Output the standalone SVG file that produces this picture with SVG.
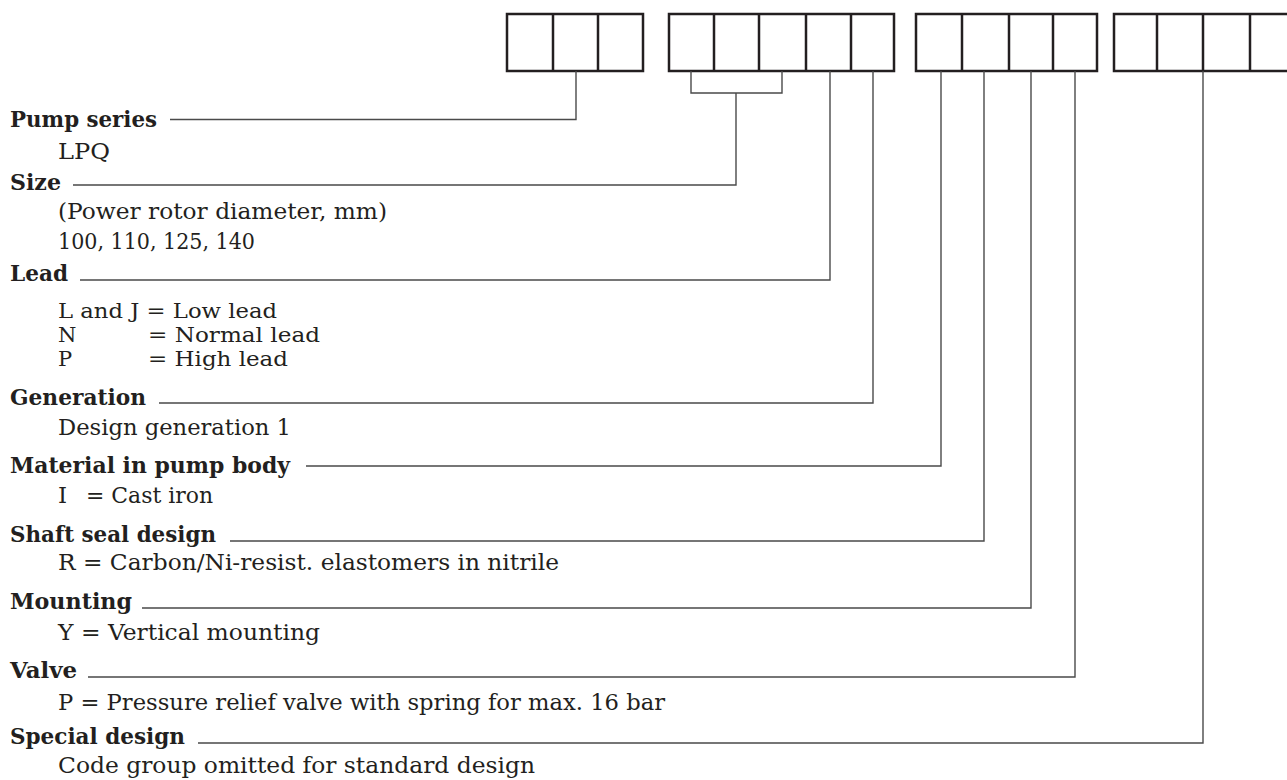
<svg xmlns="http://www.w3.org/2000/svg" width="1287" height="780" viewBox="0 0 1287 780">
<style>
.box{fill:none;stroke:#231f20;stroke-width:2.5}
.div{stroke:#231f20;stroke-width:2.5}
.con{fill:none;stroke:#4a4a4a;stroke-width:1.4}
.h{font-family:"DejaVu Serif","Liberation Serif",serif;font-weight:bold;font-size:21.5px;fill:#231f20}
.t{font-family:"DejaVu Serif","Liberation Serif",serif;font-size:23px;fill:#231f20}
.s{font-size:21px}
</style>
<rect width="1287" height="780" fill="#ffffff"/>
<g id="code-boxes">
<g id="group1">
<rect class="box" x="507" y="14" width="136" height="57"/>
<line class="div" x1="553" y1="14" x2="553" y2="71"/>
<line class="div" x1="598" y1="14" x2="598" y2="71"/>
</g>
<g id="group2">
<rect class="box" x="669" y="14" width="225" height="57"/>
<line class="div" x1="714" y1="14" x2="714" y2="71"/>
<line class="div" x1="759" y1="14" x2="759" y2="71"/>
<line class="div" x1="806" y1="14" x2="806" y2="71"/>
<line class="div" x1="851" y1="14" x2="851" y2="71"/>
</g>
<g id="group3">
<rect class="box" x="916" y="14" width="181" height="57"/>
<line class="div" x1="962" y1="14" x2="962" y2="71"/>
<line class="div" x1="1009" y1="14" x2="1009" y2="71"/>
<line class="div" x1="1053" y1="14" x2="1053" y2="71"/>
</g>
<g id="group4">
<rect class="box" x="1114" y="14" width="185" height="57"/>
<line class="div" x1="1157" y1="14" x2="1157" y2="71"/>
<line class="div" x1="1203" y1="14" x2="1203" y2="71"/>
<line class="div" x1="1250" y1="14" x2="1250" y2="71"/>
</g>
</g>
<g id="connectors">
<path class="con" d="M170,119.5 H576 V71"/>
<path class="con" d="M73,185 H736 V93"/>
<path class="con" d="M691,71 V93 H782 V71"/>
<path class="con" d="M80,280 H830 V71"/>
<path class="con" d="M159,403 H873 V71"/>
<path class="con" d="M306,466 H941 V71"/>
<path class="con" d="M230,541 H984 V71"/>
<path class="con" d="M142,608 H1031 V71"/>
<path class="con" d="M88,677 H1075 V71"/>
<path class="con" d="M198,743 H1203 V71"/>
</g>
<g id="pump-series">
<text class="h" x="10" y="126.5" textLength="147" lengthAdjust="spacingAndGlyphs">Pump series</text>
<text class="t" x="58" y="158.5" textLength="52" lengthAdjust="spacingAndGlyphs">LPQ</text>
</g>
<g id="size">
<text class="h" x="10" y="190" textLength="51" lengthAdjust="spacingAndGlyphs">Size</text>
<text class="t" x="58" y="219" textLength="329" lengthAdjust="spacingAndGlyphs">(Power rotor diameter, mm)</text>
<text class="t" x="58" y="249" textLength="197" lengthAdjust="spacingAndGlyphs">100, 110, 125, 140</text>
</g>
<g id="lead">
<text class="h" x="10" y="280.5" textLength="58" lengthAdjust="spacingAndGlyphs">Lead</text>
<text class="t s" x="58" y="318" textLength="219" lengthAdjust="spacingAndGlyphs">L and J = Low lead</text>
<text class="t s" x="58" y="342">N</text>
<text class="t s" x="148" y="342" textLength="172" lengthAdjust="spacingAndGlyphs">= Normal lead</text>
<text class="t s" x="58" y="366">P</text>
<text class="t s" x="148" y="366" textLength="140" lengthAdjust="spacingAndGlyphs">= High lead</text>
</g>
<g id="generation">
<text class="h" x="10" y="405" textLength="136" lengthAdjust="spacingAndGlyphs">Generation</text>
<text class="t" x="58" y="435" textLength="233" lengthAdjust="spacingAndGlyphs">Design generation 1</text>
</g>
<g id="material">
<text class="h" x="10" y="473" textLength="280" lengthAdjust="spacingAndGlyphs">Material in pump body</text>
<text class="t" x="58" y="503">I</text>
<text class="t" x="86" y="503" textLength="127" lengthAdjust="spacingAndGlyphs">= Cast iron</text>
</g>
<g id="shaft-seal">
<text class="h" x="10" y="542" textLength="206" lengthAdjust="spacingAndGlyphs">Shaft seal design</text>
<text class="t" x="58" y="570" textLength="501" lengthAdjust="spacingAndGlyphs">R = Carbon/Ni-resist. elastomers in nitrile</text>
</g>
<g id="mounting">
<text class="h" x="10" y="608.5" textLength="122" lengthAdjust="spacingAndGlyphs">Mounting</text>
<text class="t" x="58" y="640" textLength="262" lengthAdjust="spacingAndGlyphs">Y = Vertical mounting</text>
</g>
<g id="valve">
<text class="h" x="10" y="678" textLength="67" lengthAdjust="spacingAndGlyphs">Valve</text>
<text class="t" x="58" y="710" textLength="607" lengthAdjust="spacingAndGlyphs">P = Pressure relief valve with spring for max. 16 bar</text>
</g>
<g id="special-design">
<text class="h" x="10" y="743.5" textLength="175" lengthAdjust="spacingAndGlyphs">Special design</text>
<text class="t" x="58" y="773" textLength="477" lengthAdjust="spacingAndGlyphs">Code group omitted for standard design</text>
</g>
</svg>
